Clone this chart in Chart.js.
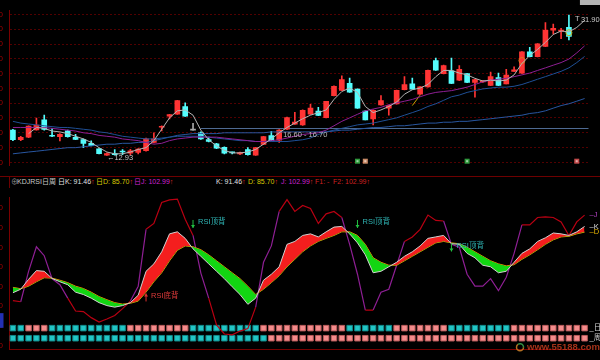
<!DOCTYPE html>
<html>
<head>
<meta charset="utf-8">
<script src="https://cdn.jsdelivr.net/npm/chart.js@4.4.1/dist/chart.umd.min.js"></script>
<style>
html, body { margin: 0; padding: 0; background: #000; }
#wrap { position: relative; width: 600px; height: 360px; overflow: hidden; background: #000;
        font-family: "Liberation Sans", Arial, "Noto Sans CJK SC", sans-serif; }
#top { position: absolute; left: 0; top: 0; width: 600px; height: 176px; }
#bot { position: absolute; left: 0; top: 187px; width: 600px; height: 173px; }
#sep { position: absolute; left: 0; top: 176px; width: 600px; height: 1px; background: #6e0000; }
#vline { position: absolute; left: 9px; top: 176px; width: 1px; height: 12px; background: #6e0000; }
#info span.item { position: absolute; top: 177px; font-size: 7px; line-height: 9px; white-space: nowrap; }
#info b { font-weight: normal; color: #e03030; }
</style>
</head>
<body>
<div id="wrap">
  <div id="top"><canvas id="priceChart"></canvas></div>
  <div id="sep"></div>
  <div id="vline"></div>
  <div id="info"></div>
  <div id="bot"><canvas id="kdjChart"></canvas></div>
</div>
<script>
// candles (daily)
const opens = [16.36,15.06,15.41,16.40,17.75,15.65,15.49,16.28,15.38,15.09,
  14.58,13.83,12.96,13.16,13.51,13.24,13.36,13.60,14.70,16.75,
  18.26,18.53,19.56,16.36,16.01,15.09,14.50,14.02,13.36,13.16,
  13.72,12.98,14.43,15.61,15.02,16.48,17.16,17.07,18.53,18.93,
  18.06,21.02,21.73,22.68,21.90,18.93,17.87,19.76,19.33,19.92,
  21.82,22.61,21.22,22.21,25.77,23.99,24.39,23.10,23.99,22.80,
  22.88,22.41,23.48,22.61,24.31,24.07,26.95,26.29,27.67,29.88,
  29.73,30.24];
const closes = [15.06,15.38,16.92,17.04,16.44,15.53,15.80,15.49,15.09,14.58,
  14.26,13.19,13.19,13.04,13.40,13.55,13.79,15.17,15.17,16.87,
  18.46,20.36,18.26,16.36,15.17,14.82,13.92,13.25,13.28,13.31,
  13.04,14.00,15.49,14.94,16.36,18.06,17.46,19.05,19.33,18.34,
  20.24,22.29,23.20,21.50,19.33,17.75,19.05,20.36,19.72,21.73,
  22.53,21.90,22.21,24.46,24.46,25.10,22.68,24.58,22.80,23.20,
  23.00,23.60,22.41,23.80,24.50,26.95,26.29,28.03,29.85,30.12,
  29.85,29.03];
const highs = [16.48,15.53,16.95,17.99,18.41,16.60,15.89,16.36,15.80,15.17,
  14.90,13.87,13.28,13.72,13.72,13.75,13.87,15.29,16.01,16.95,
  18.50,20.39,20.04,17.27,16.12,15.41,14.58,14.11,13.40,13.40,
  13.99,14.05,15.53,16.21,16.43,18.14,18.77,19.09,19.84,19.44,
  20.27,22.35,23.71,23.39,21.93,18.97,19.09,21.02,19.75,21.77,
  23.60,23.39,22.24,24.49,26.09,25.14,26.09,25.07,24.01,23.24,
  23.06,24.19,24.08,24.58,24.90,26.97,27.54,28.05,30.91,30.71,
  30.12,31.90];
const lows = [14.94,14.94,15.35,16.36,16.36,15.49,14.90,15.41,15.06,13.99,
  14.23,13.16,12.93,12.98,13.04,13.00,13.16,13.51,14.64,16.24,
  17.87,18.50,18.20,16.36,15.12,14.76,13.87,13.16,13.16,13.04,
  12.98,12.95,14.40,14.90,14.70,16.43,17.14,17.01,18.50,18.33,
  18.02,20.99,21.70,21.46,19.29,17.74,17.07,19.75,18.38,19.88,
  21.79,21.88,21.20,22.17,24.43,23.95,22.65,23.06,22.76,20.83,
  22.82,22.38,22.38,22.60,24.29,24.03,26.26,26.26,27.63,29.32,
  28.73,28.54];

// moving averages on the price panel
const ma5 = [null,null,15.89,16.72,16.60,16.24,16.12,15.89,15.53,15.17,
  14.70,13.99,13.40,13.16,13.16,13.40,13.75,13.99,14.94,16.48,
  18.02,18.97,19.09,18.38,16.36,15.06,14.23,13.63,13.28,13.28,
  13.40,13.75,14.46,15.17,16.00,16.72,17.31,17.90,18.38,18.73,
  19.09,20.51,21.58,22.05,21.46,19.56,18.73,19.09,19.56,20.16,
  21.22,21.82,22.05,22.53,23.59,24.43,24.43,24.07,23.83,23.36,
  23.00,23.12,23.00,23.12,23.83,25.37,26.44,27.27,28.22,29.29,
  29.76,29.64,30.24,31.19];
const ma10 = [16.72,16.72,16.72,16.72,16.72,16.60,16.48,16.36,16.24,16.00,
  15.89,15.65,15.53,15.41,15.17,15.06,14.94,14.70,14.46,14.58,
  14.94,15.17,15.29,15.41,15.41,15.41,15.41,15.29,15.17,15.06,
  14.94,14.82,14.82,14.94,15.06,15.29,15.53,15.77,15.89,16.00,
  16.36,16.95,17.55,18.02,18.50,18.97,19.21,19.44,19.80,20.04,
  20.27,20.51,20.87,21.22,21.46,21.58,21.70,21.93,22.17,22.53,
  22.88,23.12,23.24,23.36,23.59,23.83,24.07,24.43,24.78,25.14,
  25.49,25.97,26.80,27.75];
const ma20 = [17.55,17.31,17.19,17.07,16.95,16.83,16.72,16.72,16.60,16.48,
  16.36,16.12,16.00,15.77,15.53,15.41,15.29,15.17,15.17,15.29,
  15.41,15.53,15.53,15.53,15.53,15.41,15.29,15.17,15.06,14.94,
  14.94,14.82,14.82,14.82,14.82,14.82,14.94,15.06,15.29,15.77,
  16.12,16.36,16.60,16.83,17.07,17.19,17.31,17.55,17.78,18.02,
  18.38,18.73,19.09,19.56,19.92,20.39,20.87,21.10,21.46,21.70,
  21.93,22.05,22.17,22.17,22.29,22.53,22.88,23.24,23.59,23.95,
  24.31,24.78,25.49,26.32];
const ma60 = [13.16,13.28,13.40,13.51,13.63,13.75,13.87,13.99,13.99,14.11,
  14.23,14.34,14.46,14.46,14.58,14.58,14.70,14.70,14.94,15.17,
  15.41,15.65,15.77,15.89,15.89,15.89,15.89,16.00,16.00,16.00,
  16.00,16.00,16.00,16.12,16.12,16.12,16.12,16.12,16.12,16.12,
  16.12,16.24,16.36,16.36,16.48,16.60,16.72,16.72,16.83,16.95,
  16.95,17.07,17.19,17.31,17.31,17.43,17.43,17.55,17.55,17.67,
  17.78,17.90,18.02,18.14,18.26,18.38,18.61,18.73,18.97,19.33,
  19.68,19.92,20.27,20.63];
const priceTicks = [12,13,14,15,16,17,18,19,20,21,22,23,24,25,26,27,28,29,30,31,32];

// small marks on the price panel
const rangeLevel = 16.62, rangeFrom = 24, rangeText = '16.60 - 16.70';
const lowIndex = 12, lowValue = 12.93;
const highIndex = 71, highValue = 31.90;
const yellowTick = {51: 19.68, 52: 21.10};
const rings = {65: 25.77, 71: 29.53};
const signalIndex = [44, 45, 58, 72];
const signalColor = ['#2f9a3c', '#c88a66', '#2f9a3c', '#c24a4a'];

// KDJ panel
const kLine = [23.8,27.4,37.5,46.4,45.7,38.4,35.0,32.0,24.4,22.0,
  18.3,13.7,10.7,9.1,10.7,13.7,21.3,45.7,53.3,65.6,
  83.9,86.0,79.3,68.6,61.0,53.3,45.7,38.2,29.9,22.0,
  12.0,18.3,36.6,42.7,50.3,73.2,76.2,82.3,83.9,80.8,
  86.0,90.8,91.5,83.9,74.7,62.5,44.2,45.7,50.3,54.9,
  61.0,65.6,71.6,79.3,80.8,82.3,73.8,73.2,64.0,59.5,
  51.9,50.3,44.2,45.7,54.9,64.0,68.6,76.2,79.9,84.8,
  83.9,82.3,86.0,91.46];
const dLine = [29.3,27.9,30.5,35.0,39.1,38.7,36.6,34.1,30.5,28.1,
  24.4,19.9,16.7,13.7,12.2,13.1,15.3,24.4,35.0,44.2,
  56.4,67.1,71.6,70.7,67.7,62.5,56.4,50.3,44.2,38.2,
  30.5,22.0,27.4,34.1,41.2,50.3,57.9,65.6,71.6,76.2,
  79.3,82.3,86.0,86.0,82.3,73.2,59.5,54.9,51.9,51.9,
  56.4,61.0,65.6,70.2,74.7,76.2,74.7,73.8,70.2,65.6,
  61.0,56.4,53.3,51.2,52.4,57.9,62.5,67.7,73.2,77.8,
  80.8,81.4,83.9,85.70];
const jLine = [15.8,14.6,45.7,70.7,61.6,38.2,32.0,18.3,5.2,4.6,
  -1.6,-6.1,-3.0,0.6,7.6,15.3,30.5,88.5,94.5,115.9,
  118.5,119.4,98.8,82.3,43.9,18.3,-9.1,-18.3,-19.2,-15.3,
  -12.8,9.1,54.9,71.6,106.8,118.9,106.8,112.8,109.8,94.5,
  104.3,106.8,100.6,73.2,42.7,6.1,6.1,24.4,27.4,51.9,
  76.2,80.8,88.5,103.1,97.6,97.0,73.2,70.2,42.7,30.5,
  30.5,38.2,25.9,39.6,64.0,93.0,93.0,100.6,101.3,100.6,
  96.1,82.3,96.1,102.99];
// 1 = red square, 0 = cyan square
const dayState = [0,0,1,1,1,0,0,0,0,0, 0,0,0,0,0,1,1,1,1,1,
  1,1,1,0,0,0,0,0,0,0, 0,0,1,1,1,1,1,1,1,1,
  1,1,1,0,0,0,0,0,0,1, 1,1,1,1,1,1,0,0,0,0,
  0,0,0,0,1,1,1,1,1,1, 1,1,1,1];
const weekState = [0,0,0,0,0,0,0,0,0,0, 0,0,0,0,0,0,0,0,0,0,
  0,0,0,0,0,0,0,0,0,0, 0,0,0,1,1,1,1,1,1,1,
  1,1,1,1,1,1,1,1,1,1, 1,1,1,1,1,1,1,1,1,1,
  1,1,1,1,1,1,1,1,1,1, 1,1,1,1];
const kdjTicks = [-30,-20,-10,0,10,20,30,40,50,60,70,80,90,100,110,120];
const rsiMarks = [
  {i: 23, v: 94, text: 'RSI顶背', top: true},
  {i: 44, v: 94, text: 'RSI顶背', top: true},
  {i: 56, v: 70, text: 'RSI顶背', top: true},
  {i: 17, v: 19, text: 'RSI底背', top: false}
];

const bars = jLine.map((_, i) => String(i + 1));
const FONT = '"Liberation Sans", Arial, "Noto Sans CJK SC", sans-serif';
Chart.defaults.font.family = FONT;
Chart.defaults.font.size = 8;
const GRID = '#520000';

function candleColor(i) {
  if (closes[i] > opens[i]) return '#ff3434';
  if (closes[i] < opens[i]) return '#54fcfc';
  return '#a8a8a8';
}

const priceNotes = {
  id: 'priceNotes',
  beforeDatasetsDraw(chart) {
    const {ctx, chartArea, scales: {x, y}} = chart;
    const ly = Math.round(y.getPixelForValue(rangeLevel)) + 0.5;
    ctx.save();
    ctx.strokeStyle = '#4e6a92';
    ctx.lineWidth = 1;
    ctx.beginPath();
    ctx.moveTo(x.getPixelForValue(rangeFrom), ly);
    ctx.lineTo(chartArea.right, ly);
    ctx.stroke();
    ctx.restore();
  },
  afterDatasetsDraw(chart) {
    const {ctx, chartArea, scales: {x, y}} = chart;
    ctx.save();
    ctx.font = '7.5px ' + FONT;
    ctx.textBaseline = 'middle';
    ctx.fillStyle = '#b8b8b8';
    ctx.fillText(rangeText, x.getPixelForValue(34) + 4, y.getPixelForValue(rangeLevel) + 7);
    ctx.fillStyle = '#c8c8c8';
    ctx.fillText('←' + lowValue.toFixed(2), x.getPixelForValue(lowIndex), y.getPixelForValue(lowValue) + 2);
    const hx = x.getPixelForValue(highIndex);
    const hy = y.getPixelForValue(highValue);
    ctx.fillStyle = '#b4b4b4';
    ctx.fillRect(hx + 11, 0, 22, 5);
    ctx.fillStyle = '#c8c8c8';
    ctx.fillText('T', hx + 6, hy + 4);
    ctx.fillText(highValue.toFixed(2), hx + 12, hy + 5);
    signalIndex.forEach((idx, k) => {
      const sx = x.getPixelForValue(idx);
      ctx.fillStyle = signalColor[k];
      ctx.fillRect(sx - 2.5, chartArea.bottom - 6.5, 5, 5);
      ctx.fillStyle = 'rgba(255,255,255,0.55)';
      ctx.fillRect(sx - 1, chartArea.bottom - 5, 2, 2);
    });
    ctx.restore();
  }
};

new Chart(document.getElementById('priceChart'), {
  type: 'bar',
  data: {
    labels: bars,
    datasets: [
      {type: 'line', label: 'MA5', data: ma5, borderColor: '#b4b4b4', borderWidth: 1, pointRadius: 0},
      {type: 'line', label: 'MA10', data: ma10, borderColor: '#8e1f94', borderWidth: 1, pointRadius: 0},
      {type: 'line', label: 'MA20', data: ma20, borderColor: '#1f4f95', borderWidth: 1, pointRadius: 0},
      {type: 'line', label: 'MA60', data: ma60, borderColor: '#2856a0', borderWidth: 1, pointRadius: 0},
      {type: 'line', label: 'tick', data: bars.map((_, i) => yellowTick[i] ?? null),
        borderColor: '#c8a000', borderWidth: 1, pointRadius: 0},
      {type: 'line', label: 'ring', data: bars.map((_, i) => rings[i] ?? null), showLine: false,
        pointRadius: 3, pointBorderWidth: 1, pointBackgroundColor: 'rgba(0,0,0,0)',
        pointBorderColor: c => c.dataIndex === 65 ? '#e07a20' : '#c8b020'},
      {label: 'body', data: opens.map((o, i) => [o, closes[i]]), grouped: false,
        backgroundColor: c => candleColor(c.dataIndex), barThickness: 5, minBarLength: 1},
      {label: 'wick', data: lows.map((l, i) => [l, highs[i]]), grouped: false,
        backgroundColor: c => candleColor(c.dataIndex), barThickness: 1}
    ]
  },
  options: {
    responsive: true, maintainAspectRatio: false, animation: false, events: [],
    layout: {padding: {left: 0, right: 11.5, top: 0, bottom: 0}, autoPadding: false},
    plugins: {legend: {display: false}, tooltip: {enabled: false}},
    scales: {
      x: {display: false, offset: true},
      y: {
        min: 11.62, max: 32.49,
        afterFit: s => { s.width = 9; },
        afterBuildTicks: s => { s.ticks = priceTicks.map(v => ({value: v})); },
        ticks: {color: '#a00000', padding: 6, callback: v => Number(v).toFixed(2)},
        grid: {drawTicks: false, color: c => (c.tick && c.tick.value % 2 === 0) ? GRID : 'rgba(0,0,0,0)'},
        border: {color: '#7a0000', dash: [2, 2]}
      }
    }
  },
  plugins: [priceNotes]
});

const kdjNotes = {
  id: 'kdjNotes',
  afterDatasetsDraw(chart) {
    const {ctx, chartArea, scales: {x, y}} = chart;
    ctx.save();
    ctx.font = '7.5px ' + FONT;
    ctx.textBaseline = 'middle';
    rsiMarks.forEach(m => {
      const mx = x.getPixelForValue(m.i);
      const my = y.getPixelForValue(m.v);
      ctx.strokeStyle = m.top ? '#22c040' : '#e03030';
      ctx.fillStyle = ctx.strokeStyle;
      ctx.lineWidth = 1;
      ctx.beginPath();
      ctx.moveTo(mx, my - 4); ctx.lineTo(mx, my + 4);
      ctx.stroke();
      ctx.beginPath();
      if (m.top) { ctx.moveTo(mx - 2, my + 1); ctx.lineTo(mx + 2, my + 1); ctx.lineTo(mx, my + 4); }
      else { ctx.moveTo(mx - 2, my - 1); ctx.lineTo(mx + 2, my - 1); ctx.lineTo(mx, my - 4); }
      ctx.fill();
      ctx.fillStyle = m.top ? '#2fb4b4' : '#e03a3a';
      ctx.fillText(m.text, mx + 5, my - 2);
    });
    const rx = chartArea.right + 1;
    const ends = [
      [jLine[jLine.length - 1], '‒J', '#b040c0'],
      [kLine[kLine.length - 1], '‒K', '#d8d8d8'],
      [dLine[dLine.length - 1], '‒D', '#e6b400']
    ];
    ends.forEach(([v, t, col]) => { ctx.fillStyle = col; ctx.fillText(t, rx, y.getPixelForValue(v)); });
    ctx.fillStyle = '#d0d0d0';
    ctx.fillText('_日', rx, y.getPixelForValue(-12.3));
    ctx.fillText('_周', rx, y.getPixelForValue(-22.6));
    // cropped value box on the left edge
    const bt = y.getPixelForValue(3), bb = y.getPixelForValue(-12);
    ctx.fillStyle = '#2230b4';
    ctx.fillRect(0, bt, 3.5, bb - bt);
    // watermark
    ctx.font = 'bold 9.5px ' + FONT;
    ctx.fillStyle = 'rgba(190,60,30,0.85)';
    ctx.fillText('www.55188.com', 527, chartArea.bottom - 2);
    ctx.lineWidth = 1.5;
    ctx.strokeStyle = 'rgba(210,130,40,0.85)';
    ctx.beginPath(); ctx.arc(520, chartArea.bottom - 2, 3.5, 0, Math.PI * 1.3); ctx.stroke();
    ctx.strokeStyle = 'rgba(60,170,80,0.85)';
    ctx.beginPath(); ctx.arc(520, chartArea.bottom - 2, 3.5, Math.PI * 1.3, Math.PI * 2); ctx.stroke();
    ctx.restore();
  }
};

const cyanSq = '#22c6c6', cyanEdge = '#118888', pinkSq = '#f48c8c', pinkEdge = '#b85a5a';

new Chart(document.getElementById('kdjChart'), {
  type: 'line',
  data: {
    labels: bars,
    datasets: [
      {label: 'K', data: kLine, borderColor: '#d0d0d0', borderWidth: 1, pointRadius: 0,
        fill: {target: 1, above: '#f41e1e', below: '#12d612'}},
      {label: 'D', data: dLine, borderColor: '#e6a400', borderWidth: 1, pointRadius: 0},
      {label: 'J', data: jLine, borderColor: '#8e1f94', borderWidth: 1.2, pointRadius: 0,
        segment: {borderColor: c => {
          const a = c.p0.parsed.y, b = c.p1.parsed.y;
          return ((a > 75 && b > 75) || (a < 20 && b < 20)) ? '#b80012' : '#8e1f94';
        }}},
      {label: '日', data: dayState.map(() => -12.3), showLine: false, pointStyle: 'rect',
        pointRadius: 3.9, pointBorderWidth: 1,
        pointBackgroundColor: c => dayState[c.dataIndex] ? pinkSq : cyanSq,
        pointBorderColor: c => dayState[c.dataIndex] ? pinkEdge : cyanEdge},
      {label: '周', data: weekState.map(() => -22.6), showLine: false, pointStyle: 'rect',
        pointRadius: 3.9, pointBorderWidth: 1,
        pointBackgroundColor: c => weekState[c.dataIndex] ? pinkSq : cyanSq,
        pointBorderColor: c => weekState[c.dataIndex] ? pinkEdge : cyanEdge}
    ]
  },
  options: {
    responsive: true, maintainAspectRatio: false, animation: false, events: [],
    layout: {padding: {left: 0, right: 11.5, top: 1, bottom: 0}, autoPadding: false},
    plugins: {legend: {display: false}, tooltip: {enabled: false}},
    scales: {
      x: {offset: true, ticks: {display: false}, grid: {display: false},
        border: {color: '#7a0000'}, afterFit: s => { s.height = 3; }},
      y: {
        min: -33.8, max: 120.7,
        afterFit: s => { s.width = 9; },
        afterBuildTicks: s => { s.ticks = kdjTicks.map(v => ({value: v})); },
        ticks: {color: '#a00000', padding: 6, callback: v => Number(v).toFixed(2)},
        grid: {drawTicks: false, color: c => (c.tick && c.tick.value % 20 === 0) ? GRID : 'rgba(0,0,0,0)'},
        border: {color: '#7a0000', dash: [2, 2]}
      }
    }
  },
  plugins: [kdjNotes]
});

// indicator title row
const lastK = kLine[kLine.length - 1].toFixed(2);
const lastD = dLine[dLine.length - 1].toFixed(2);
const lastJ = jLine[jLine.length - 1].toFixed(2);
const up = '<b>↑</b>';
const infoItems = [
  {x: 11, color: '#9a9a9a', html: '⊕'},
  {x: 17, color: '#c8c8c8', html: 'KDJRSI日周'},
  {x: 58, color: '#e0e0e0', html: '日K: ' + lastK + up},
  {x: 96, color: '#d8c800', html: '日D: ' + lastD + up},
  {x: 134, color: '#d020d0', html: '日J: ' + lastJ + up},
  {x: 216, color: '#e0e0e0', html: 'K: ' + lastK + up},
  {x: 248, color: '#d8c800', html: 'D: ' + lastD + up},
  {x: 281, color: '#d020d0', html: 'J: ' + lastJ + up},
  {x: 315, color: '#d02020', html: 'F1: -'},
  {x: 333, color: '#d02020', html: 'F2: ' + lastJ + up}
];
document.getElementById('info').innerHTML = infoItems
  .map(it => '<span class="item" style="left:' + it.x + 'px;color:' + it.color + '">' + it.html + '</span>')
  .join('');
</script>
</body>
</html>
